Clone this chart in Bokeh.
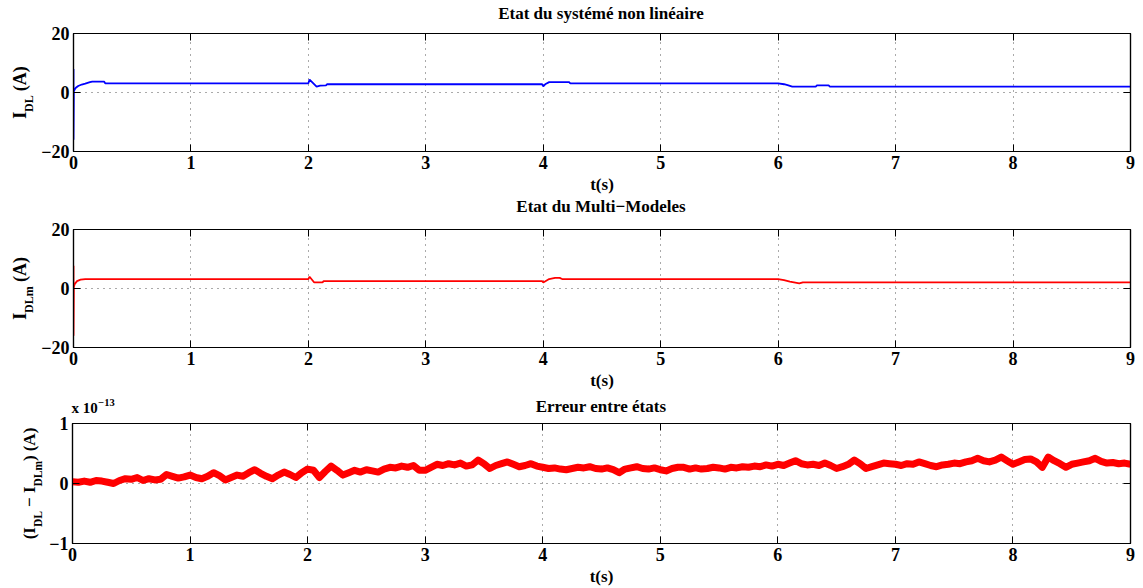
import math
from bokeh.plotting import figure
from bokeh.models import Range1d, LinearAxis, FixedTicker, Label
from bokeh.layouts import column, row
from bokeh.embed import file_html
from bokeh.resources import INLINE

FONT = "Liberation Serif"

# ---------------- data ----------------
x_ticks = [0, 1, 2, 3, 4, 5, 6, 7, 8, 9]
y_ticks_state = [-20, 0, 20]
y_ticks_err = [-1, 0, 1]

titles = ["Etat du systémé non linéaire", "Etat du Multi\u2212Modeles", "Erreur entre états"]
x_label = "t(s)"

# state of the nonlinear system I_DL (A)
t_sys = [0.0, 0.0, 0.003, 0.01, 0.02, 0.04, 0.07, 0.10, 0.14, 0.16, 0.26, 0.27,
         2.0, 2.01, 2.07, 2.10, 2.15, 2.16, 3.99, 4.0, 4.02, 4.05, 4.22, 4.23,
         6.0, 6.05, 6.08, 6.12, 6.32, 6.33, 6.43, 6.44, 9.0]
i_sys = [8.0, -16.0, 0.5, 1.0, 1.6, 2.2, 2.7, 3.0, 3.5, 3.7, 3.7, 3.1,
         3.1, 4.4, 2.0, 2.3, 2.4, 2.8, 2.8, 2.1, 2.9, 3.5, 3.5, 3.1,
         3.1, 2.8, 2.5, 2.0, 2.0, 2.4, 2.4, 2.0, 2.0]

# state of the multi-model I_DLm (A)
t_mm = [0.0, 0.0, 0.003, 0.01, 0.03, 0.06, 0.10, 2.0, 2.01, 2.05, 2.12, 2.13,
        3.99, 4.0, 4.05, 4.10, 4.14, 4.16, 6.0, 6.05, 6.10, 6.18, 6.21, 9.0]
i_mm = [7.7, -16.0, 0.5, 1.5, 2.5, 3.0, 3.2, 3.2, 4.0, 2.05, 2.05, 2.5,
        2.5, 2.05, 3.2, 3.6, 3.6, 3.2, 3.2, 2.8, 2.3, 1.7, 2.05, 2.05]

# error between states (x 1e-13 A), sampled every 0.05 s from 0 to 9 s
err_t0 = 0.0
err_dt = 0.05
err_vals = [
    0.03, 0.02, 0.04, 0.02, 0.05, 0.04, 0.02, 0.00, 0.05, 0.08,
    0.07, 0.10, 0.05, 0.08, 0.06, 0.07, 0.15, 0.12, 0.09, 0.11,
    0.14, 0.10, 0.08, 0.12, 0.18, 0.13, 0.06, 0.10, 0.14, 0.12,
    0.18, 0.23, 0.17, 0.12, 0.08, 0.14, 0.19, 0.15, 0.10, 0.18,
    0.24, 0.22, 0.10, 0.20, 0.29, 0.22, 0.14, 0.18, 0.22, 0.19,
    0.23, 0.21, 0.19, 0.24, 0.27, 0.26, 0.29, 0.27, 0.30, 0.22,
    0.22, 0.27, 0.32, 0.30, 0.33, 0.31, 0.34, 0.29, 0.31, 0.39,
    0.33, 0.25, 0.30, 0.33, 0.36, 0.32, 0.28, 0.30, 0.33, 0.29,
    0.27, 0.25, 0.26, 0.24, 0.23, 0.25, 0.27, 0.26, 0.28, 0.25,
    0.24, 0.26, 0.23, 0.18, 0.24, 0.26, 0.28, 0.25, 0.24, 0.26,
    0.23, 0.21, 0.25, 0.27, 0.27, 0.24, 0.26, 0.24, 0.25, 0.27,
    0.26, 0.24, 0.27, 0.26, 0.28, 0.27, 0.29, 0.28, 0.31, 0.29,
    0.32, 0.30, 0.34, 0.38, 0.33, 0.31, 0.32, 0.30, 0.34, 0.30,
    0.25, 0.28, 0.32, 0.39, 0.33, 0.25, 0.28, 0.31, 0.34, 0.33,
    0.32, 0.30, 0.33, 0.32, 0.36, 0.33, 0.30, 0.28, 0.31, 0.32,
    0.34, 0.33, 0.36, 0.38, 0.42, 0.38, 0.36, 0.39, 0.44, 0.38,
    0.32, 0.36, 0.40, 0.41, 0.36, 0.27, 0.44, 0.38, 0.33, 0.27,
    0.32, 0.34, 0.36, 0.38, 0.42, 0.37, 0.34, 0.35, 0.33, 0.34,
    0.32,
]
err_t = [err_t0 + k * err_dt for k in range(len(err_vals))]

# ---------------- layout (page pixels) ----------------
PAGE_W = 1143
FRAME_L, FRAME_R = 71, 1130
MINUS = "\u2212"
TOP_PAD = 8

# Times-Bold advance widths (Liberation Serif Bold is metric compatible)
TB = {' ': 250, '(': 333, ')': 333, '\u2212': 570, 'I': 389, 'D': 722, 'L': 667,
      'm': 833, 'A': 722, 'x': 500, '0': 500, '1': 500, '3': 500}


def tw(s, size):
    return sum(TB.get(c, 500) for c in s) / 1000.0 * size


def lab(p, x, y, text, size, **kw):
    p.add_layout(Label(x=x, y=y, text=text, text_font=FONT, text_font_style="bold",
                       text_font_size=f"{size}px", text_color="black", **kw))


def blank_fig(w, h, top=0, bottom=0, yr=None):
    p = figure(width=w, height=h, output_backend="svg", toolbar_location=None,
               x_range=Range1d(0, w), y_range=Range1d(0, h - top - bottom) if yr is None else yr,
               x_axis_location=None, y_axis_location=None,
               min_border_left=0, min_border_right=0, min_border_top=top, min_border_bottom=bottom,
               background_fill_color="white", border_fill_color="white")
    p.grid.visible = False
    p.outline_line_color = None
    p.title.visible = False
    return p


def main_fig(w, h, left, top, frame_h, yr, yticks, overrides):
    bottom = h - top - frame_h
    p = figure(width=w, height=h, output_backend="svg", toolbar_location=None,
               x_range=Range1d(0, 9), y_range=Range1d(*yr),
               min_border_left=left, min_border_right=PAGE_W - FRAME_R,
               min_border_top=top, min_border_bottom=bottom,
               background_fill_color="white", border_fill_color="white")
    p.title.visible = False
    p.outline_line_color = "black"
    p.outline_line_width = 1.2
    p.xaxis.ticker = FixedTicker(ticks=x_ticks, minor_ticks=[])
    p.yaxis.ticker = FixedTicker(ticks=yticks, minor_ticks=[])
    p.yaxis.major_label_overrides = overrides
    for ax in p.xaxis + p.yaxis:
        ax.axis_line_color = "black"
        ax.axis_line_width = 1.2
        ax.major_tick_in = 7
        ax.major_tick_out = 0
        ax.major_tick_line_color = "black"
        ax.minor_tick_line_color = None
        ax.major_label_text_font = FONT
        ax.major_label_text_font_style = "bold"
        ax.major_label_text_font_size = "18px"
        ax.major_label_text_color = "black"
    p.xaxis.major_label_standoff = 4
    p.yaxis.major_label_standoff = 4
    p.xaxis.axis_label = x_label
    p.xaxis.axis_label_text_font = FONT
    p.xaxis.axis_label_text_font_style = "bold"
    p.xaxis.axis_label_text_font_size = "17px"
    p.xaxis.axis_label_text_color = "black"
    p.xaxis.axis_label_standoff = 3
    for side, tk in (("above", x_ticks), ("right", yticks)):
        ax = LinearAxis(ticker=FixedTicker(ticks=tk, minor_ticks=[]),
                        major_label_text_font_size="0px", major_label_standoff=0,
                        major_tick_in=7, major_tick_out=0, axis_line_color="black",
                        axis_line_width=1.2, minor_tick_line_color=None)
        ax.major_label_overrides = {v: "" for v in tk}
        p.add_layout(ax, side)
    for g in (p.xgrid, p.ygrid):
        g.grid_line_color = "#555555"
        g.grid_line_dash = "1 5"
        g.grid_line_width = 1
    p.xgrid[0].ticker = FixedTicker(ticks=x_ticks)
    p.ygrid[0].ticker = FixedTicker(ticks=yticks)
    return p


# block specs (page pixels): block top/bottom, frame top/bottom, title centre,
# width of the y-label column, x of the y-label main text centre line
blocks = [
    dict(y0=0, y1=196, ftop=33, fbot=153, title_y=12.5, lw=38, cx=19, yr=(-20, 20),
         yt=y_ticks_state, ov={-20: MINUS + "20"}),
    dict(y0=196, y1=392, ftop=229, fbot=348, title_y=206, lw=38, cx=19, yr=(-20, 20),
         yt=y_ticks_state, ov={-20: MINUS + "20"}),
    dict(y0=392, y1=588, ftop=423, fbot=543, title_y=405.5, lw=46, cx=29, yr=(-1, 1),
         yt=y_ticks_err, ov={-1: MINUS + "1"}),
]

rows = []
mains = []
for k, b in enumerate(blocks):
    strip_h = b["ftop"] - TOP_PAD - b["y0"]
    strip = blank_fig(PAGE_W, strip_h)
    strip_bottom = b["y0"] + strip_h
    lab(strip, (FRAME_L + FRAME_R) / 2.0, strip_bottom - b["title_y"], titles[k], 17,
        text_align="center", text_baseline="middle")
    mh = b["y1"] - b["y0"] - strip_h
    mw = PAGE_W - b["lw"]
    fh = b["fbot"] - b["ftop"]
    m = main_fig(mw, mh, FRAME_L - b["lw"], TOP_PAD, fh, b["yr"], b["yt"], b["ov"])
    # y-label column: same top/bottom borders as the main plot, so its frame lines up
    # with the axes; data y = page pixels above the frame bottom
    yl = blank_fig(b["lw"], mh, top=TOP_PAD, bottom=mh - TOP_PAD - fh)
    mains.append((m, yl, strip, strip_bottom, b))
    rows.append(column(strip, row(yl, m, spacing=0), spacing=0))

(p1, yl1, s1, sb1, b1), (p2, yl2, s2, sb2, b2), (p3, yl3, s3, sb3, b3) = mains

p1.line(t_sys, i_sys, line_color="#0000ff", line_width=1.8)
p2.line(t_mm, i_mm, line_color="#ff0000", line_width=1.8)
p3.line(err_t, err_vals, line_color="#ff0000", line_width=7, line_join="round")


def ylabel(yl, b, pieces):
    """pieces: (text, size, shift to the right in px); text None = gap of `size` px."""
    ycen_page = (b["ftop"] + b["fbot"]) / 2.0
    total = sum((tw(t, sz) if t is not None else sz) for t, sz, sh in pieces)
    cum = -total / 2.0
    for t, sz, sh in pieces:
        if t is None:
            cum += sz
            continue
        w = tw(t, sz)
        mid_page = ycen_page - (cum + w / 2.0)
        y_data = b["fbot"] - mid_page
        lab(yl, b["cx"] + sh, y_data, t, sz,
            angle=math.pi / 2, text_align="center", text_baseline="middle")
        cum += w


M, S = 18, 12
ylabel(yl1, b1, [("I", M, 0), ("DL", S, 9), (None, 4.5, 0), ("(A)", M, 0)])
ylabel(yl2, b2, [("I", M, 0), ("DLm", S, 9), (None, 4.5, 0), ("(A)", M, 0)])
M3, S3 = 17, 11.5
ylabel(yl3, b3, [("(I", M3, 0), ("DL", S3, 8.5), (None, 4, 0), (MINUS + " I", M3, 0),
                 ("DLm", S3, 8.5), (")", M3, 0), (None, 4, 0), ("(A)", M3, 0)])

# exponent label above the error axes (strip of block 3)
w_x10 = tw("x 10", 15)
lab(s3, FRAME_L + w_x10 / 2.0, sb3 - 407.5, "x 10", 15, text_align="center", text_baseline="middle")
w_e = tw(MINUS + "13", 10.5)
lab(s3, FRAME_L + w_x10 + 0.5 + w_e / 2.0, sb3 - 401.5, MINUS + "13", 10.5,
    text_align="center", text_baseline="middle")

layout = column(*rows, spacing=0)
open("out.html", "w").write(file_html(layout, INLINE))
